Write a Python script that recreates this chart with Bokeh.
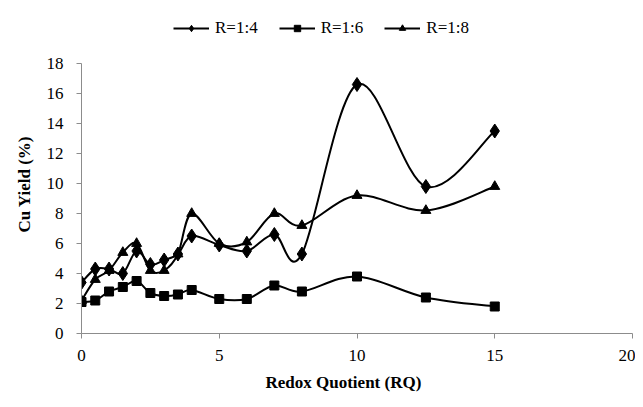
import numpy as np
from bokeh.plotting import figure
from bokeh.models import Range1d, FixedTicker, Legend, LegendItem, ColumnDataSource, Title
from bokeh.embed import file_html
from bokeh.resources import INLINE

# ---- data ----
rq = [0, 0.5, 1, 1.5, 2, 2.5, 3, 3.5, 4, 5, 6, 7, 8, 10, 12.5, 15]
r14 = [3.4, 4.3, 4.3, 4.0, 5.5, 4.6, 4.9, 5.3, 6.5, 5.9, 5.5, 6.6, 5.3, 16.6, 9.8, 13.5]
r16 = [2.1, 2.2, 2.8, 3.1, 3.5, 2.7, 2.5, 2.6, 2.9, 2.3, 2.3, 3.2, 2.8, 3.8, 2.4, 1.8]
r18 = [2.2, 3.6, 4.2, 5.4, 6.0, 4.2, 4.2, 5.3, 8.0, 6.0, 6.1, 8.0, 7.2, 9.2, 8.2, 9.8]
series_names = ["R=1:4", "R=1:6", "R=1:8"]
x_ticks = [0, 5, 10, 15, 20]
y_ticks = [0, 2, 4, 6, 8, 10, 12, 14, 16, 18]
x_lim = (0, 20)
y_lim = (0, 18)
x_title = "Redox Quotient (RQ)"
y_title = "Cu Yield (%)"

SERIF = "Liberation Serif"

# layout (pixels)
W, H = 635, 399
LEFT, RIGHT, TOP, BOTTOM = 81, 3, 0, 66
AXIS_TOP_PX = 63          # where y = 18 sits
frame_h = H - TOP - BOTTOM
y_end = y_lim[1] * frame_h / (frame_h - (AXIS_TOP_PX - TOP))


def smooth_segments(x, y, t=1.0 / 6.0):
    """Excel-like smoothed line: cubic Bezier segments (Catmull-Rom control points)."""
    x = np.asarray(x, float)
    y = np.asarray(y, float)
    n = len(x)
    d = dict(x0=[], y0=[], x1=[], y1=[], cx0=[], cy0=[], cx1=[], cy1=[])
    for i in range(n - 1):
        a = i - 1 if i > 0 else i
        b = i + 2 if i + 2 < n else i + 1
        d["x0"].append(x[i]); d["y0"].append(y[i])
        d["x1"].append(x[i + 1]); d["y1"].append(y[i + 1])
        d["cx0"].append(x[i] + (x[i + 1] - x[a]) * t)
        d["cy0"].append(y[i] + (y[i + 1] - y[a]) * t)
        d["cx1"].append(x[i + 1] - (x[b] - x[i]) * t)
        d["cy1"].append(y[i + 1] - (y[b] - y[i]) * t)
    return ColumnDataSource(d)


p = figure(width=W, height=H, output_backend="svg", toolbar_location=None,
           x_range=Range1d(*x_lim), y_range=Range1d(y_lim[0], y_end),
           min_border_left=LEFT, min_border_right=RIGHT,
           min_border_top=TOP, min_border_bottom=BOTTOM)
p.outline_line_color = None
p.xgrid.visible = False
p.ygrid.visible = False
p.background_fill_color = "white"

for ax in (p.xaxis[0], p.yaxis[0]):
    ax.axis_line_color = "#8c8c8c"
    ax.major_tick_line_color = "#8c8c8c"
    ax.major_tick_out = 5
    ax.major_tick_in = 0
    ax.minor_tick_line_color = None
    ax.major_label_text_font = SERIF
    ax.major_label_text_font_size = "17px"
    ax.major_label_text_color = "black"

p.yaxis.bounds = y_lim
p.xaxis.ticker = FixedTicker(ticks=x_ticks)
p.yaxis.ticker = FixedTicker(ticks=y_ticks)
p.xaxis.major_label_standoff = 11
p.yaxis.major_label_standoff = 13

# axis titles (offset from the frame's start, like the original)
p.add_layout(Title(text=x_title, align="left", offset=184, standoff=14,
                   text_font=SERIF, text_font_style="bold", text_font_size="17px",
                   text_color="black"), "below")
p.add_layout(Title(text=y_title, align="left", offset=101, standoff=20,
                   text_font=SERIF, text_font_style="bold", text_font_size="17px",
                   text_color="black"), "left")

items = []
specs = [(r14, "diamond", 14), (r16, "square", 9), (r18, "triangle", 10)]
for (vals, marker, size), name in zip(specs, series_names):
    src = smooth_segments(rq, vals)
    lr = p.bezier(x0="x0", y0="y0", x1="x1", y1="y1", cx0="cx0", cy0="cy0",
                  cx1="cx1", cy1="cy1", source=src, line_color="black", line_width=2)
    sr = p.scatter(rq, vals, marker=marker, size=size,
                   fill_color="black", line_color="black")
    items.append(LegendItem(label=name, renderers=[lr, sr]))

legend = Legend(items=items, orientation="horizontal", location=(92, 295),
                glyph_width=36, glyph_height=16, label_standoff=6, spacing=21,
                padding=0, margin=0, border_line_color=None, background_fill_alpha=0,
                label_text_font=SERIF, label_text_font_size="17px", label_text_color="black")
p.add_layout(legend, "center")

open("out.html", "w").write(file_html(p, INLINE))
